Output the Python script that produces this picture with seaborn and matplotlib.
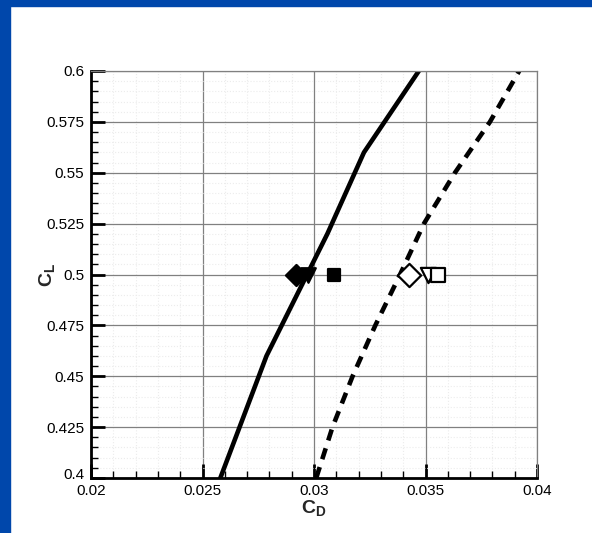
import matplotlib
matplotlib.use("Agg")
import matplotlib.pyplot as plt
import matplotlib.transforms as mtransforms
import seaborn as sns
import pandas as pd
from matplotlib.patches import Rectangle
from matplotlib.ticker import MultipleLocator

# ---- data ----
solid_cl = [0.40, 0.46, 0.52, 0.56, 0.60]
solid_cd = [0.0258, 0.02787, 0.0306, 0.03224, 0.0347]

dashed_cl = [0.40, 0.425, 0.45, 0.475, 0.50, 0.525, 0.55, 0.575, 0.60]
dashed_cd = [0.0301, 0.03083, 0.03173, 0.03275, 0.03386, 0.03493, 0.03632, 0.03789, 0.0392]

marker_cd = [0.02919, 0.02975, 0.03091, 0.03427, 0.03509, 0.03554]
marker_cl = [0.5, 0.5, 0.5, 0.5, 0.5, 0.5]
marker_shape = ["D", "v", "s", "D", "v", "s"]
marker_fill = ["black", "black", "black", "white", "white", "white"]
marker_size = [115, 110, 80, 140, 120, 110]

xticks = [0.02, 0.025, 0.03, 0.035, 0.04]
xticklabels = ["0.02", "0.025", "0.03", "0.035", "0.04"]
yticks = [0.4, 0.425, 0.45, 0.475, 0.5, 0.525, 0.55, 0.575, 0.6]
yticklabels = ["0.4", "0.425", "0.45", "0.475", "0.5", "0.525", "0.55", "0.575", "0.6"]

sns.set_style("white")
plt.rcParams["font.family"] = ["Liberation Sans", "DejaVu Sans"]
plt.rcParams["mathtext.fontset"] = "custom"
plt.rcParams["mathtext.bf"] = "Liberation Sans:bold"
plt.rcParams["mathtext.rm"] = "Liberation Sans"

fig = plt.figure(figsize=(5.92, 5.33), dpi=100)
fig.patch.set_facecolor("white")
ax = fig.add_axes([91 / 592, 1 - 478 / 533, (537 - 91) / 592, (478 - 71) / 533])

# grid
ax.set_axisbelow(True)
ax.xaxis.set_major_locator(MultipleLocator(0.005))
ax.xaxis.set_minor_locator(MultipleLocator(0.001))
ax.yaxis.set_major_locator(MultipleLocator(0.025))
ax.yaxis.set_minor_locator(MultipleLocator(0.005))
ax.grid(which="major", color="#808080", linewidth=0.9, linestyle="-")
ax.grid(which="minor", color="#ececec", linewidth=0.8, linestyle=":")

df_s = pd.DataFrame({"CD": solid_cd, "CL": solid_cl})
df_d = pd.DataFrame({"CD": dashed_cd, "CL": dashed_cl})
sns.lineplot(data=df_s, x="CD", y="CL", sort=False, estimator=None, color="black",
             linewidth=3.3, ax=ax)
sns.lineplot(data=df_d, x="CD", y="CL", sort=False, estimator=None, color="black",
             linewidth=3.3, ax=ax, dashes=False)
ax.lines[-1].set_dashes((2.5, 1.8))

for cd, cl, m, fc, s in zip(marker_cd, marker_cl, marker_shape, marker_fill, marker_size):
    sns.scatterplot(x=[cd], y=[cl], marker=m, s=s, color=fc, edgecolor="black",
                    linewidth=1.6, ax=ax, zorder=5)

ax.set_xlim(0.02, 0.04)
ax.set_ylim(0.4, 0.6)
ax.set_xticks(xticks)
ax.set_xticklabels(xticklabels)
ax.set_yticks(yticks)
ax.set_yticklabels(yticklabels)

ax.tick_params(which="major", direction="in", length=10, width=2, colors="black",
               labelsize=11)
ax.tick_params(axis="y", which="major", pad=5)
ax.tick_params(axis="x", which="major", pad=4)
ax.tick_params(which="minor", direction="in", length=5, width=1, colors="black")
ax.tick_params(axis="x", which="both", top=False, bottom=True)
ax.tick_params(axis="y", which="both", right=False, left=True)

# nudge the corner "0.4" label up slightly, as in the reference
lbl = ax.get_yticklabels()[0]
lbl.set_transform(lbl.get_transform() + mtransforms.ScaledTranslation(0, 3 / 72, fig.dpi_scale_trans))

for side in ["left", "bottom"]:
    ax.spines[side].set_color("black")
    ax.spines[side].set_linewidth(2)
for side in ["top", "right"]:
    ax.spines[side].set_color("#808080")
    ax.spines[side].set_linewidth(0.9)

ax.set_xlabel(r"$\mathbf{C_D}$", fontsize=14)
ax.set_ylabel(r"$\mathbf{C_L}$", fontsize=14)
ax.xaxis.set_label_coords(0.5, -0.05)
ax.yaxis.set_label_coords(-0.076, 0.5)

# blue frame bands
fig.add_artist(Rectangle((0, 0), 10 / 592, 1, transform=fig.transFigure,
                         color="#0047AB", zorder=10))
fig.add_artist(Rectangle((0, 1 - 6 / 533), 1, 6 / 533, transform=fig.transFigure,
                         color="#0047AB", zorder=10))

fig.savefig("out.png", dpi=100, facecolor="white")
